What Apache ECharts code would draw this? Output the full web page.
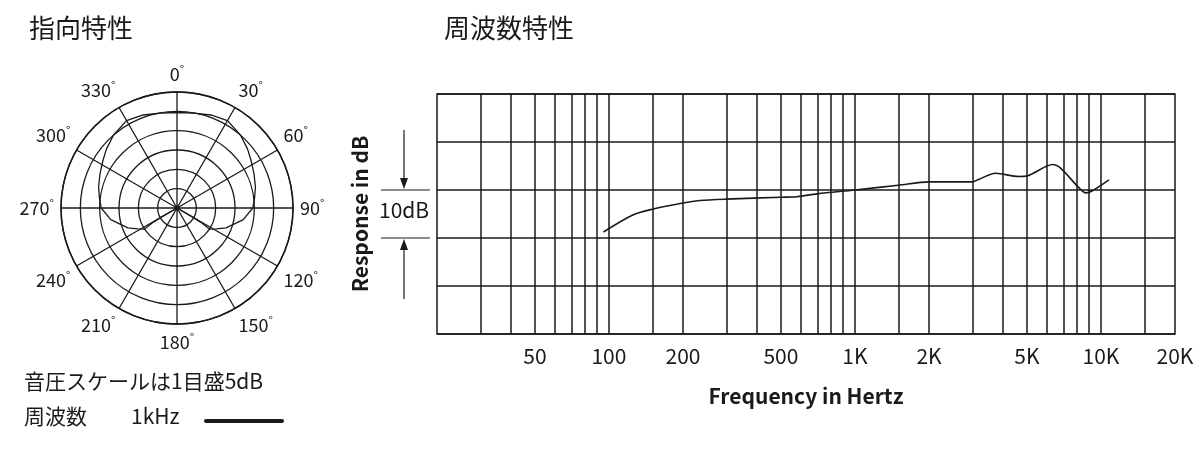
<!DOCTYPE html>
<html><head><meta charset="utf-8">
<script src="https://cdn.jsdelivr.net/npm/echarts@6/dist/echarts.min.js"></script>
<style>html,body{margin:0;background:#fff}#c{width:1200px;height:450px}</style>
</head><body><div id="c"></div>
<script>
// Frequency response
const freqHz = [95,125,150,200,234,300,500,581,702,1000,1500,2000,3000,3180,3730,4630,4990,6370,6870,8060,8690,9270,10780];
const respDb = [-8.75,-5.2,-4.0,-2.7,-2.2,-1.9,-1.5,-1.4,-0.8,0,1.0,1.7,1.7,2.2,3.5,2.8,2.9,5.3,4.5,0.7,-0.6,-0.1,2.1];
const freqTicks = [50,100,200,500,1000,2000,5000,10000,20000];
const freqTickLabels = ['50','100','200','500','1K','2K','5K','10K','20K'];
const freqGrid = [30,40,50,60,70,80,90,100,150,200,300,400,500,600,700,800,900,1000,1500,2000,3000,4000,5000,6000,7000,8000,9000,10000,15000];
// Polar pattern (angle deg, dB)
const polarAngle = [0,10,20,30,41,50,57,66,75,83,90,100,112,118,123,121,120,180,240,239,237,242,248,260,270,277,285,294,303,310,319,330,340,350,360];
const polarDb =    [-5.3,-5.1,-4.4,-3.9,-5,-6.2,-7.2,-8.2,-9,-9.8,-10.4,-12.6,-16.3,-18.5,-20,-22.8,-25.3,-30,-25.3,-22.8,-20,-18.5,-16.3,-12.6,-10.4,-9.8,-9,-8.2,-7.2,-6.2,-5,-3.9,-4.4,-5.1,-5.3];

const K = '#1a1a1a';
const font = '"Noto Sans CJK JP","Noto Sans",sans-serif';
const chart = echarts.init(document.getElementById('c'));
const tickMap = {};
freqTicks.forEach((f,i)=>tickMap[Math.log10(f).toFixed(4)] = freqTickLabels[i]);

chart.setOption({
  animation:false,
  textStyle:{fontFamily:font,color:K},
  title:[
    {text:'指向特性',left:24,top:10,textStyle:{fontSize:26,fontWeight:'normal',color:K,fontFamily:font}},
    {text:'周波数特性',left:439,top:10,textStyle:{fontSize:26,fontWeight:'normal',color:K,fontFamily:font}}
  ],
  polar:{center:[177,208],radius:116},
  angleAxis:{type:'value',min:0,max:360,interval:30,startAngle:90,clockwise:true,
    axisLine:{lineStyle:{color:K,width:1.5}},axisTick:{show:false},
    splitLine:{lineStyle:{color:K,width:1.3}},
    axisLabel:{margin:7,formatter:v=>v===360?'':'{a|'+v+'}{b|°}',
      rich:{a:{fontSize:18,color:K,fontFamily:font},b:{fontSize:12,color:K,verticalAlign:'top',padding:[0,0,10,0]}}}},
  radiusAxis:{type:'value',min:-30,max:0,interval:5,axisLine:{show:false},axisTick:{show:false},axisLabel:{show:false},
    splitLine:{lineStyle:{color:K,width:1.3}}},
  grid:{left:437,right:25,top:94,bottom:116,show:true,borderColor:K,borderWidth:1.5},
  xAxis:{type:'value',min:Math.log10(20),max:Math.log10(20000),
    axisLine:{show:false},axisTick:{show:false},splitLine:{show:false},
    axisLabel:{customValues:freqTicks.map(f=>Math.log10(f)),formatter:v=>tickMap[v.toFixed(4)]||'',
      fontSize:21,color:K,margin:12,fontFamily:font},
    name:'Frequency in Hertz',nameLocation:'middle',nameGap:52,
    nameTextStyle:{fontSize:21,fontWeight:'bold',color:K,fontFamily:font}},
  yAxis:{type:'value',min:-30,max:20,interval:10,axisLine:{show:false},axisTick:{show:false},
    axisLabel:{show:false},splitLine:{lineStyle:{color:K,width:1.5}},
    name:'Response in dB',nameLocation:'middle',nameGap:66,nameRotate:90,
    nameTextStyle:{fontSize:21,fontWeight:'bold',color:K,fontFamily:font}},
  graphic:[
    {type:'text',left:379,top:200,style:{text:'10dB',fontSize:21,fill:K,fontFamily:font}},
    {type:'line',shape:{x1:381,y1:190,x2:430,y2:190},style:{stroke:K,lineWidth:1.2}},
    {type:'line',shape:{x1:381,y1:238,x2:430,y2:238},style:{stroke:K,lineWidth:1.2}},
    {type:'line',shape:{x1:404,y1:130,x2:404,y2:182},style:{stroke:K,lineWidth:1.2}},
    {type:'polygon',shape:{points:[[400,178],[408,178],[404,189]]},style:{fill:K}},
    {type:'line',shape:{x1:404,y1:246,x2:404,y2:299},style:{stroke:K,lineWidth:1.2}},
    {type:'polygon',shape:{points:[[400,250],[408,250],[404,239]]},style:{fill:K}},
    {type:'text',left:24,top:371,style:{text:'音圧スケールは1目盛5dB',fontSize:21,fill:K,fontFamily:font}},
    {type:'text',left:24,top:406,style:{text:'周波数',fontSize:21,fill:K,fontFamily:font}},
    {type:'text',left:131,top:406,style:{text:'1kHz',fontSize:21,fill:K,fontFamily:font}},
    {type:'line',shape:{x1:206,y1:421,x2:282,y2:421},style:{stroke:K,lineWidth:4,lineCap:'round'}}
  ],
  series:[
    {type:'line',coordinateSystem:'polar',data:polarAngle.map((a,i)=>[polarDb[i],a]),
      symbol:'none',smooth:false,lineStyle:{color:K,width:1.3},silent:true},
    {type:'line',data:freqHz.map((f,i)=>[Math.log10(f),respDb[i]]),symbol:'none',smooth:0.3,
      lineStyle:{color:K,width:1.6},silent:true,z:5,
      markLine:{silent:true,symbol:'none',label:{show:false},
        lineStyle:{color:K,width:1.5,type:'solid'},
        data:freqGrid.map(f=>({xAxis:Math.log10(f)}))}}
  ]
});
</script></body></html>
